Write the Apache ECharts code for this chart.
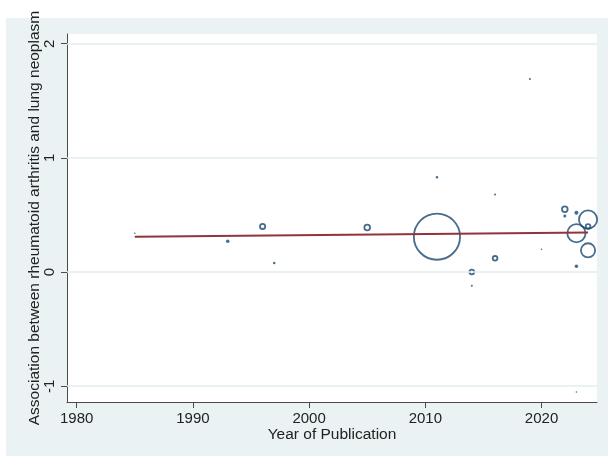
<!DOCTYPE html>
<html>
<head>
<meta charset="utf-8">
<script src="https://cdn.jsdelivr.net/npm/echarts@6/dist/echarts.min.js"></script>
<style>
  html, body { margin: 0; padding: 0; background: #ffffff; }
  #chart { width: 608px; height: 457px; }
</style>
</head>
<body>
<div id="chart"></div>
<script>
// Study-level estimates: publication year, effect size and meta-analytic weight
const years   = [1985, 1993, 1996, 1997, 2005, 2011, 2011, 2014, 2014, 2016, 2016, 2019, 2020, 2022, 2022, 2023, 2023, 2023, 2023, 2024, 2024, 2024];
const effects = [0.34, 0.27, 0.40, 0.08, 0.39, 0.31, 0.83, 0.00, -0.12, 0.68, 0.12, 1.69, 0.20, 0.55, 0.49, 0.52, 0.34, 0.05, -1.05, 0.46, 0.40, 0.19];
const weights = [0.1, 0.53, 2.13, 0.27, 2.44, 100, 0.27, 1.83, 0.17, 0.17, 1.83, 0.17, 0.1, 2.44, 0.39, 0.69, 17.4, 0.53, 0.1, 17.4, 1.83, 11.1];

// Meta-regression fitted line (endpoints)
const fitYears  = [1985, 2024];
const fitValues = [0.309, 0.347];

// Axis ticks
const xTicks = [1980, 1990, 2000, 2010, 2020];
const yTicks = [-1, 0, 1, 2];

const NAVY = '#1a476f';
const MAROON = '#90353b';
const BG = '#eaf2f3';
const AXIS = '#4a4a4a';
const FONT = 'Liberation Sans, Arial, sans-serif';

// Bubble area proportional to weight
const bubbleData = years.map((y, i) => {
  const d = 4.8 * Math.sqrt(weights[i]);
  if (d < 4) {
    return {
      value: [y, effects[i]],
      symbolSize: Math.max(d, 1.6),
      itemStyle: { color: NAVY, borderWidth: 0 }
    };
  }
  return {
    value: [y, effects[i]],
    symbolSize: d - 1.8,
    itemStyle: { color: 'rgba(0,0,0,0)', borderColor: NAVY, borderWidth: 1.8 }
  };
});

const chart = echarts.init(document.getElementById('chart'), null, { renderer: 'canvas' });

chart.setOption({
  animation: false,
  backgroundColor: '#ffffff',
  graphic: [{
    type: 'rect',
    shape: { x: 6, y: 18, width: 602, height: 438 },
    style: { fill: BG },
    z: -10,
    silent: true
  }],
  grid: {
    left: 67, right: 11, top: 34, bottom: 55,
    show: true, backgroundColor: '#ffffff', borderWidth: 0
  },
  xAxis: {
    type: 'value',
    min: 1979.17, max: 2024.77,
    name: 'Year of Publication',
    nameLocation: 'middle',
    nameGap: 25,
    nameMoveOverlap: false,
    nameTextStyle: { fontFamily: FONT, fontSize: 15.5, color: '#222' },
    axisLine: { show: true, onZero: false, lineStyle: { color: AXIS, width: 1 } },
    axisTick: { show: true, length: 6, customValues: xTicks, lineStyle: { color: AXIS } },
    axisLabel: {
      customValues: xTicks, margin: 9, fontFamily: FONT, fontSize: 15, color: '#222',
      formatter: v => String(v)
    },
    splitLine: { show: false }
  },
  yAxis: {
    type: 'value',
    min: -1.138, max: 2.085,
    name: 'Association between rheumatoid arthritis and lung neoplasm',
    nameLocation: 'middle',
    nameRotate: 90,
    nameGap: 24,
    nameMoveOverlap: false,
    nameTextStyle: { fontFamily: FONT, fontSize: 15.5, color: '#222' },
    axisLine: { show: true, onZero: false, lineStyle: { color: AXIS, width: 1 } },
    axisTick: { show: true, length: 6, customValues: yTicks, lineStyle: { color: AXIS } },
    axisLabel: {
      customValues: yTicks, rotate: 90, margin: 10, fontFamily: FONT, fontSize: 15, color: '#222',
      formatter: v => String(v)
    },
    splitLine: { show: false }
  },
  series: [
    {
      // horizontal grid lines at the labelled y ticks
      type: 'line',
      data: [],
      silent: true,
      markLine: {
        silent: true,
        symbol: ['none', 'none'],
        label: { show: false },
        lineStyle: { color: '#e3ecee', width: 1.5, type: 'solid' },
        data: yTicks.map(v => ({ yAxis: v }))
      },
      z: 1
    },
    {
      type: 'scatter',
      data: bubbleData,
      symbol: 'circle',
      z: 3
    },
    {
      type: 'line',
      data: fitYears.map((x, i) => [x, fitValues[i]]),
      showSymbol: false,
      symbol: 'none',
      lineStyle: { color: MAROON, width: 2 },
      z: 4
    }
  ]
});
</script>
</body>
</html>
